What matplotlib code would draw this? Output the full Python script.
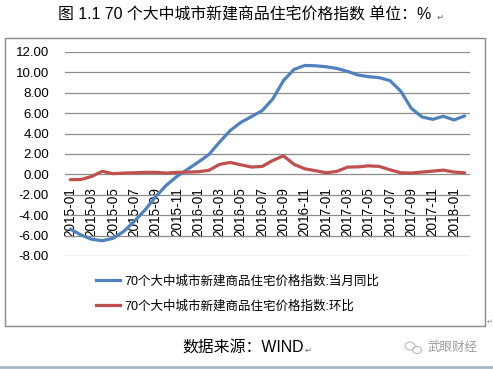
import numpy as np
import matplotlib.pyplot as plt
from matplotlib.patches import Rectangle, Ellipse
from matplotlib.lines import Line2D

plt.rcParams['font.family'] = ['Liberation Sans', 'Noto Sans CJK SC', 'DejaVu Sans']

# ── 数据 ───────────────────────────────────────────────────────────────
months = [f'{y}-{m:02d}' for y in (2015, 2016, 2017, 2018) for m in range(1, 13)][:38]

yoy = [-5.36, -5.94, -6.36, -6.50, -6.27, -5.60, -4.60, -3.50, -2.20, -1.07,
       -0.20, 0.50, 1.20, 1.95, 3.16, 4.30, 5.10, 5.67, 6.25, 7.40,
       9.20, 10.30, 10.68, 10.65, 10.55, 10.39, 10.10, 9.74, 9.58, 9.48,
       9.19, 8.16, 6.47, 5.63, 5.40, 5.70, 5.34, 5.73]

mom = [-0.52, -0.50, -0.20, 0.30, 0.07, 0.13, 0.16, 0.20, 0.20, 0.13,
       0.20, 0.22, 0.26, 0.40, 0.98, 1.17, 0.94, 0.72, 0.78, 1.37,
       1.82, 0.98, 0.55, 0.36, 0.16, 0.29, 0.71, 0.74, 0.84, 0.78,
       0.45, 0.16, 0.13, 0.23, 0.32, 0.42, 0.23, 0.16]

yticks = np.arange(-8, 13, 2)

label_yoy = '70个大中城市新建商品住宅价格指数:当月同比'
label_mom = '70个大中城市新建商品住宅价格指数:环比'

BLUE = '#4F81BD'
RED = '#C0504D'
GRID = '#8C8C8C'

W, H = 493, 369
fig = plt.figure(figsize=(W / 100, H / 100), dpi=100)

# 图表外框
fig.patches.append(Rectangle((5 / W, 1 - 326 / H), 480 / W, 288 / H,
                             transform=fig.transFigure, fill=False,
                             edgecolor='#8A8A8A', lw=1.0))

ax = fig.add_axes([65 / W, 1 - 256 / H, 405 / W, 204 / H])
x = np.arange(len(months))
ax.plot(x, yoy, color=BLUE, lw=2.3, solid_capstyle='round')
ax.plot(x, mom, color=RED, lw=2.3, solid_capstyle='round')

# 横轴放在 0 处（先设置位置，再设刻度标签）
ax.spines['bottom'].set_position(('data', 0))
for s in ax.spines.values():
    s.set_visible(False)

ax.set_xlim(-0.5, len(months) - 0.5)
ax.set_ylim(-8, 12)
ax.set_yticks(yticks)
ax.set_yticklabels([f'{v:.2f}' for v in yticks], fontsize=9.5)
ax.grid(axis='y', color=GRID, lw=0.9)
ax.set_axisbelow(True)

ax.set_xticks(x[::2])
ax.set_xticklabels(months[::2], fontsize=9.8)
ax.tick_params(axis='x', length=0, pad=9, labelrotation=90)
ax.tick_params(axis='y', length=0, pad=11.5)

# 图例
handles = [Line2D([], [], color=BLUE, lw=2.3), Line2D([], [], color=RED, lw=2.3)]
fig.legend(handles, [label_yoy, label_mom], loc='upper left',
           bbox_to_anchor=(96 / W, 1 - 275 / H), frameon=False, fontsize=9,
           handlelength=1.95, handletextpad=0.3, labelspacing=1.0,
           borderpad=0, borderaxespad=0)

# 标题与来源
fig.text(244.5 / W, 1 - 15 / H, '图 1.1 70 个大中城市新建商品住宅价格指数 单位：%',
         ha='center', va='center', fontsize=11.4)
fig.text(437 / W, 1 - 17 / H, '↵', ha='left', va='center', fontsize=6,
         color='#666666', family=['DejaVu Sans'])
fig.text(243 / W, 1 - 348 / H, '数据来源：WIND', ha='center', va='center', fontsize=11.4)
fig.text(305 / W, 1 - 350 / H, '↵', ha='left', va='center', fontsize=6,
         color='#666666', family=['DejaVu Sans'])
fig.text(487 / W, 1 - 322 / H, '↵', ha='left', va='center', fontsize=5,
         color='#888888', family=['DejaVu Sans'])
fig.text(428 / W, 1 - 348 / H, '武眼财经', ha='left', va='center', fontsize=9,
         color='#9A9A9A')

# 水印图标（微信气泡）
for cx, cy, w, h in [(410, 346, 10, 8), (417, 350, 9, 7)]:
    fig.patches.append(Ellipse((cx / W, 1 - cy / H), w / W, h / H,
                               transform=fig.transFigure, fill=False,
                               edgecolor='#BDBDBD', lw=0.8))

# 底部细条
fig.add_artist(Line2D([0, 1], [1 - 367 / H, 1 - 367 / H], transform=fig.transFigure,
                      color='#A7B7CC', lw=2))

fig.savefig('out.png', dpi=100)
